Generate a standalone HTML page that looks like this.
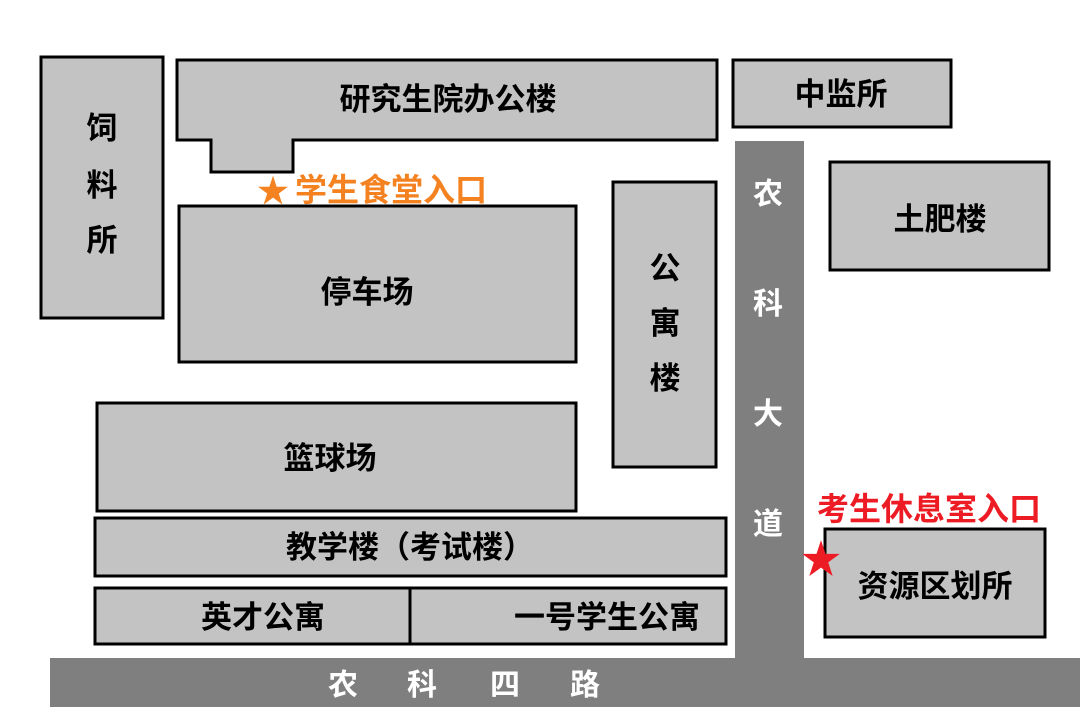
<!DOCTYPE html>
<html><head><meta charset="utf-8"><style>
body{margin:0;background:#fff;}
svg text{font-family:"Liberation Sans","Noto Sans CJK SC",sans-serif;font-weight:bold;}
</style></head><body>
<svg width="1080" height="720" viewBox="0 0 1080 720">
<rect width="1080" height="720" fill="#fff"/>
<g fill="#c3c3c3" stroke="#000" stroke-width="3">
<rect x="41" y="57" width="122" height="261"/>
<polygon points="177,60 717,60 717,140 293,140 293,172 211,172 211,140 177,140"/>
<rect x="733" y="60" width="218" height="67"/>
<rect x="179" y="206" width="397" height="156"/>
<rect x="613" y="182" width="103" height="285"/>
<rect x="830" y="162" width="219" height="108"/>
<rect x="97" y="403" width="479" height="108"/>
<rect x="95" y="518" width="631" height="58"/>
<rect x="95" y="588" width="315" height="56"/>
<rect x="410" y="588" width="316" height="56"/>
<rect x="825" y="529" width="220" height="108"/>
</g>
<rect x="735" y="141" width="69" height="518" fill="#7f7f7f"/>
<rect x="50" y="658" width="1030" height="49" fill="#7f7f7f"/>
<g font-size="31" fill="#000" text-anchor="middle">
<text x="102" y="139">饲</text><text x="102" y="196">料</text><text x="102" y="251">所</text>
<text x="448" y="110">研究生院办公楼</text>
<text x="841" y="105">中监所</text>
<text x="367" y="303">停车场</text>
<text x="665" y="279">公</text><text x="665" y="334">寓</text><text x="665" y="389">楼</text>
<text x="940" y="230">土肥楼</text>
<text x="330" y="469">篮球场</text>
<text x="410" y="558">教学楼（考试楼）</text>
<text x="263" y="628">英才公寓</text>
<text x="607" y="628">一号学生公寓</text>
<text x="935" y="597">资源区划所</text>
</g>
<g font-size="30" fill="#fff" text-anchor="middle">
<text x="768" y="204">农</text><text x="768" y="314">科</text><text x="768" y="424">大</text><text x="768" y="534">道</text>
<text x="343" y="695">农</text><text x="422" y="695">科</text><text x="505" y="695">四</text><text x="585" y="695">路</text>
</g>
<text x="295" y="201" font-size="32" fill="#f58220">学生食堂入口</text>
<text x="273" y="202" font-size="32" fill="#f58220" text-anchor="middle">★</text>
<text x="817" y="520" font-size="32" fill="#ed1c24">考生休息室入口</text>
<text x="821" y="573" font-size="40" fill="#ed1c24" text-anchor="middle">★</text>
</svg>
</body></html>
